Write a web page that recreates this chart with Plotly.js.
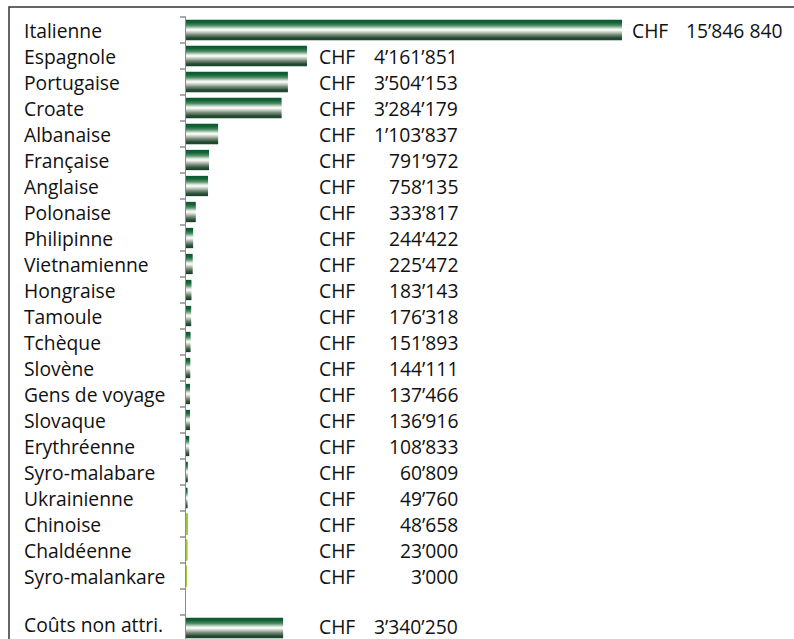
<!DOCTYPE html>
<html>
<head>
<meta charset="utf-8">
<script src="https://cdn.plot.ly/plotly-3.0.1.min.js"></script>
<style>
html,body{margin:0;padding:0;overflow:hidden;background:#fff;}
#chart{width:794px;height:645px;}
</style>
</head>
<body>
<div id="chart"></div>
<script>
// ---- data ----
const categories = ["Italienne","Espagnole","Portugaise","Croate","Albanaise","Française","Anglaise","Polonaise","Philipinne","Vietnamienne","Hongraise","Tamoule","Tchèque","Slovène","Gens de voyage","Slovaque","Erythréenne","Syro-malabare","Ukrainienne","Chinoise","Chaldéenne","Syro-malankare"," ","Coûts non attri."];
const values = [15846840,4161851,3504153,3284179,1103837,791972,758135,333817,244422,225472,183143,176318,151893,144111,137466,136916,108833,60809,49760,48658,23000,3000,null,3340250];
const valueLabels = ["15’846 840","4’161’851","3’504’153","3’284’179","1’103’837","791’972","758’135","333’817","244’422","225’472","183’143","176’318","151’893","144’111","137’466","136’916","108’833","60’809","49’760","48’658","23’000","3’000","","3’340’250"];
const currency = "CHF";
const lightGroup = ["Chinoise","Chaldéenne","Syro-malankare"];

// ---- layout geometry (pixels) ----
const W = 794, H = 645;
const L = 186, R = 622, T = 17, B = 641;
const xMax = 15000000;
const FONT = "Open Sans, Noto Sans, sans-serif";
const FS = 19.3;
const TXT = "#111";
const AXIS = "#8c8c8c";

// gradient stops (fraction from top of bar)
const stops = [
  [0.00,[8,88,44]],[0.15,[22,102,57]],[0.30,[95,150,113]],[0.42,[210,228,214]],
  [0.50,[255,255,255]],[0.58,[214,220,212]],[0.70,[140,156,142]],[0.85,[58,90,66]],[1.00,[6,52,27]]
];
function gradColor(f){
  for(let i=0;i<stops.length-1;i++){
    const a=stops[i], b=stops[i+1];
    if(f>=a[0] && f<=b[0]){
      const t=(f-a[0])/(b[0]-a[0]);
      const c=a[1].map((v,k)=>Math.round(v+(b[1][k]-v)*t));
      return `rgb(${c[0]},${c[1]},${c[2]})`;
    }
  }
  return "rgb(6,52,27)";
}

const LIGHT = "#9cc83a";
const barW = 0.78, N = 22, s = barW/N;
const traces = [];
for(let i=0;i<N;i++){
  const col = gradColor((i+0.5)/N);
  traces.push({
    type:"bar", orientation:"h",
    x: values, y: categories,
    offset: -barW/2 + i*s,
    width: (i===N-1) ? s : s*1.7,
    marker:{
      color: categories.map(c => lightGroup.includes(c) ? LIGHT : col),
      line:{width: categories.map(c => lightGroup.includes(c) ? 1.2 : 0),
            color: categories.map(c => lightGroup.includes(c) ? LIGHT : col)}
    },
    hoverinfo:"skip", showlegend:false
  });
}

const annotations = [];
const last = categories.length-1;
categories.forEach((c,i)=>{
  if(values[i]===null) return;
  annotations.push({x:0, xref:"paper", y:c, yref:"y", xshift:22-L, yshift:(i===last?4:0), xanchor:"left", yanchor:"middle",
    text:c, showarrow:false, bgcolor:"rgba(0,0,0,0)", font:{family:FONT,size:FS,color:TXT}});
  const over = values[i] > xMax;
  annotations.push({x:0, xref:"paper", y:c, yref:"y", xshift:(over?630:317)-L, yshift:(i===last?2:0), xanchor:"left", yanchor:"middle",
    text:currency, showarrow:false, bgcolor:"rgba(0,0,0,0)", font:{family:FONT,size:FS,color:TXT}});
  annotations.push({x:0, xref:"paper", y:c, yref:"y", xshift:(over?784:460)-L, yshift:(i===last?2:0), xanchor:"right", yanchor:"middle",
    text:valueLabels[i], showarrow:false, bgcolor:"rgba(0,0,0,0)", font:{family:FONT,size:FS,color:TXT}});
});

const px2x = p => (p-L)/(R-L);
const px2y = p => 1-(p-T)/(B-T);

// tick marks on category boundaries (axis decoration), paper coords
const nCat = categories.length;
const shapes = [];
for(let k=0;k<=nCat;k++){
  const yb = 1 - k/nCat;
  shapes.push({type:"line", xref:"paper", yref:"paper", x0:px2x(180), x1:px2x(186), y0:yb, y1:yb,
    line:{color:AXIS, width:1.5}, layer:"above"});
}
shapes.push({type:"rect", xref:"paper", yref:"paper", x0:px2x(9), x1:px2x(820), y0:px2y(7), y1:px2y(700),
  line:{color:"#333", width:1.5}, fillcolor:"rgba(0,0,0,0)", layer:"above"});

const layout = {
  width:W, height:H,
  margin:{l:L, r:W-R, t:T, b:H-B, pad:0},
  paper_bgcolor:"#fff", plot_bgcolor:"rgba(0,0,0,0)",
  barmode:"overlay",
  showlegend:false,
  xaxis:{range:[0,xMax], showgrid:false, zeroline:false, showline:false, showticklabels:false, ticks:"", fixedrange:true},
  yaxis:{type:"category", categoryorder:"array", categoryarray:categories,
    range:[nCat-0.5,-0.5], showgrid:false, zeroline:false,
    showline:true, linecolor:AXIS, linewidth:1.5,
    ticks:"", showticklabels:false, automargin:false, fixedrange:true},
  annotations: annotations,
  shapes: shapes
};

Plotly.newPlot("chart", traces, layout, {staticPlot:true, displayModeBar:false});
</script>
</body>
</html>
